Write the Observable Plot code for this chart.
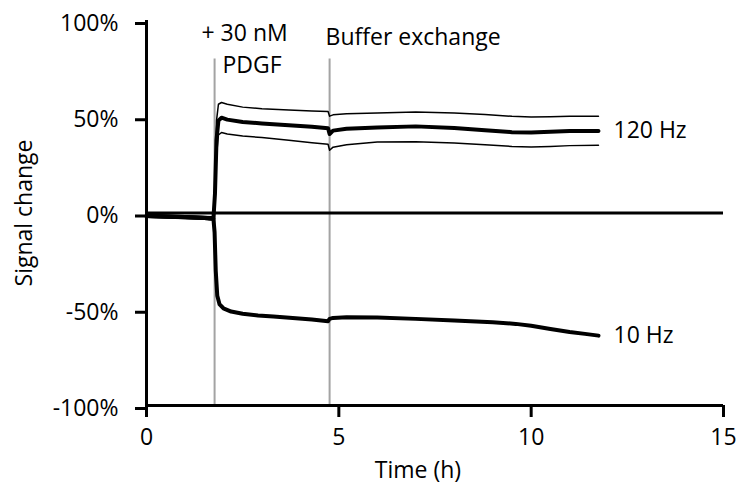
<!DOCTYPE html>
<html>
<head>
<meta charset="utf-8">
<script src="https://cdn.jsdelivr.net/npm/d3@7"></script>
<script src="https://cdn.jsdelivr.net/npm/@observablehq/plot@0.6"></script>
<style>
  body { margin: 0; background: white; }
</style>
</head>
<body>
<div id="chart"></div>
<script>
// ---- data ----
const time120  = [0, 0.5, 1.0, 1.5, 1.74, 1.78, 1.82, 1.87, 1.95, 2.1, 2.5, 3.0, 3.7, 4.3, 4.72, 4.76, 4.85, 5.2, 6.0, 7.0, 8.0, 8.8, 9.5, 10.0, 10.5, 11.0, 11.75];
const mean120  = [-1.5, -1.8, -2.1, -2.5, -2.8, 10, 38, 48, 49.5, 48.5, 47.3, 46.5, 45.6, 44.8, 44.0, 41.0, 42.8, 43.8, 44.4, 45.0, 44.2, 43.0, 42.0, 41.8, 42.2, 42.6, 42.6];
const upper120 = [-0.8, -1.1, -1.4, -1.8, -2.0, 15, 48, 56.5, 57.4, 56.5, 55.0, 54.2, 53.5, 53.0, 52.7, 50.3, 51.0, 51.6, 52.0, 52.5, 52.0, 51.2, 50.2, 49.9, 50.0, 50.3, 50.3];
const lower120 = [-2.2, -2.5, -2.8, -3.2, -3.6, 5, 30, 40.5, 41.8, 41.0, 40.0, 39.2, 37.8, 36.5, 35.7, 32.6, 34.2, 35.5, 36.9, 37.0, 36.3, 35.4, 34.6, 34.3, 34.6, 35.0, 35.2];

const time10 = [0, 0.5, 1.0, 1.5, 1.74, 1.77, 1.8, 1.84, 1.9, 2.0, 2.2, 2.5, 2.9, 3.3, 3.8, 4.3, 4.72, 4.76, 4.85, 5.2, 6.0, 7.0, 8.0, 9.0, 9.6, 10.0, 10.5, 11.0, 11.4, 11.75];
const mean10 = [-1.6, -1.9, -2.2, -2.6, -3.0, -10, -30, -43, -47.5, -49.5, -51.2, -52.3, -53.2, -53.8, -54.5, -55.3, -56.2, -55.0, -54.5, -54.2, -54.3, -55.0, -55.9, -56.8, -57.6, -58.6, -60.3, -61.8, -62.8, -63.7];

const seriesNames = ["120 Hz", "10 Hz"];
const eventTimes  = [1.77, 4.76];
const eventLabels = [["+ 30 nM", "PDGF"], ["Buffer exchange"]];
const xTicks = [0, 5, 10, 15];
const yTicks = [-100, -50, 0, 50, 100];
const xTitle = "Time (h)";
const yTitle = "Signal change";

// ---- tables built from the arrays ----
const meanRows = [
  ...time120.map((t, i) => ({t, v: mean120[i], s: seriesNames[0]})),
  ...time10.map((t, i) => ({t, v: mean10[i], s: seriesNames[1]}))
];
const sdRows = [
  ...time120.map((t, i) => ({t, v: upper120[i], s: "upper"})),
  ...time120.map((t, i) => ({t, v: lower120[i], s: "lower"}))
];
const endRows = [
  {t: time120[time120.length - 1], v: mean120[mean120.length - 1], label: seriesNames[0]},
  {t: time10[time10.length - 1], v: mean10[mean10.length - 1], label: seriesNames[1]}
];
const events = eventTimes.map((t) => ({t}));

const font = "'Open Sans', sans-serif";

const chart = Plot.plot({
  width: 736,
  height: 489,
  marginLeft: 146,
  marginRight: 13,
  marginTop: 20,
  marginBottom: 84,
  x: {domain: [0, 15]},
  y: {domain: [-100, 100]},
  style: {fontFamily: font, fontSize: "23px", color: "black", background: "white", overflow: "visible"},
  marks: [
    Plot.ruleX(events, {x: "t", y1: -100, y2: 80, stroke: "#a3a3a3", strokeWidth: 2}),
    Plot.line(sdRows, {x: "t", y: "v", z: "s", stroke: "black", strokeWidth: 1.5}),
    Plot.line(meanRows, {x: "t", y: "v", z: "s", stroke: "black", strokeWidth: 4, strokeLinejoin: "round"}),
    Plot.ruleY([0], {stroke: "black", strokeWidth: 3}),
    Plot.ruleX([0], {stroke: "black", strokeWidth: 3}),
    Plot.ruleY([-100], {stroke: "black", strokeWidth: 3}),
    Plot.axisY(yTicks, {tickSize: 11, tickPadding: 17, strokeWidth: 3, tickFormat: d => `${d}%`, label: null, fontSize: 23, dy: 3}),
    Plot.axisX(xTicks, {tickSize: 12, tickPadding: 11, strokeWidth: 3, label: null, fontSize: 23}),
    Plot.text([yTitle], {frameAnchor: "left", textAnchor: "middle", lineAnchor: "middle", dx: -122, rotate: -90, fontSize: 23}),
    Plot.text([xTitle], {frameAnchor: "bottom", textAnchor: "middle", lineAnchor: "middle", dx: -17, dy: 65, fontSize: 23}),
    Plot.text([events[0]], {x: "t", text: () => eventLabels[0][0], frameAnchor: "top", textAnchor: "middle", lineAnchor: "middle", dx: 30, dy: 13, fontSize: 23}),
    Plot.text([events[0]], {x: "t", text: () => eventLabels[0][1], frameAnchor: "top", textAnchor: "middle", lineAnchor: "middle", dx: 37.5, dy: 45, fontSize: 23}),
    Plot.text([events[1]], {x: "t", text: () => eventLabels[1][0], frameAnchor: "top", textAnchor: "middle", lineAnchor: "middle", dx: 83.5, dy: 17.5, fontSize: 23}),
    Plot.text(endRows, {x: "t", y: "v", text: "label", dx: 15, textAnchor: "start", fontSize: 23})
  ]
});

document.getElementById("chart").appendChild(chart);
</script>
</body>
</html>
